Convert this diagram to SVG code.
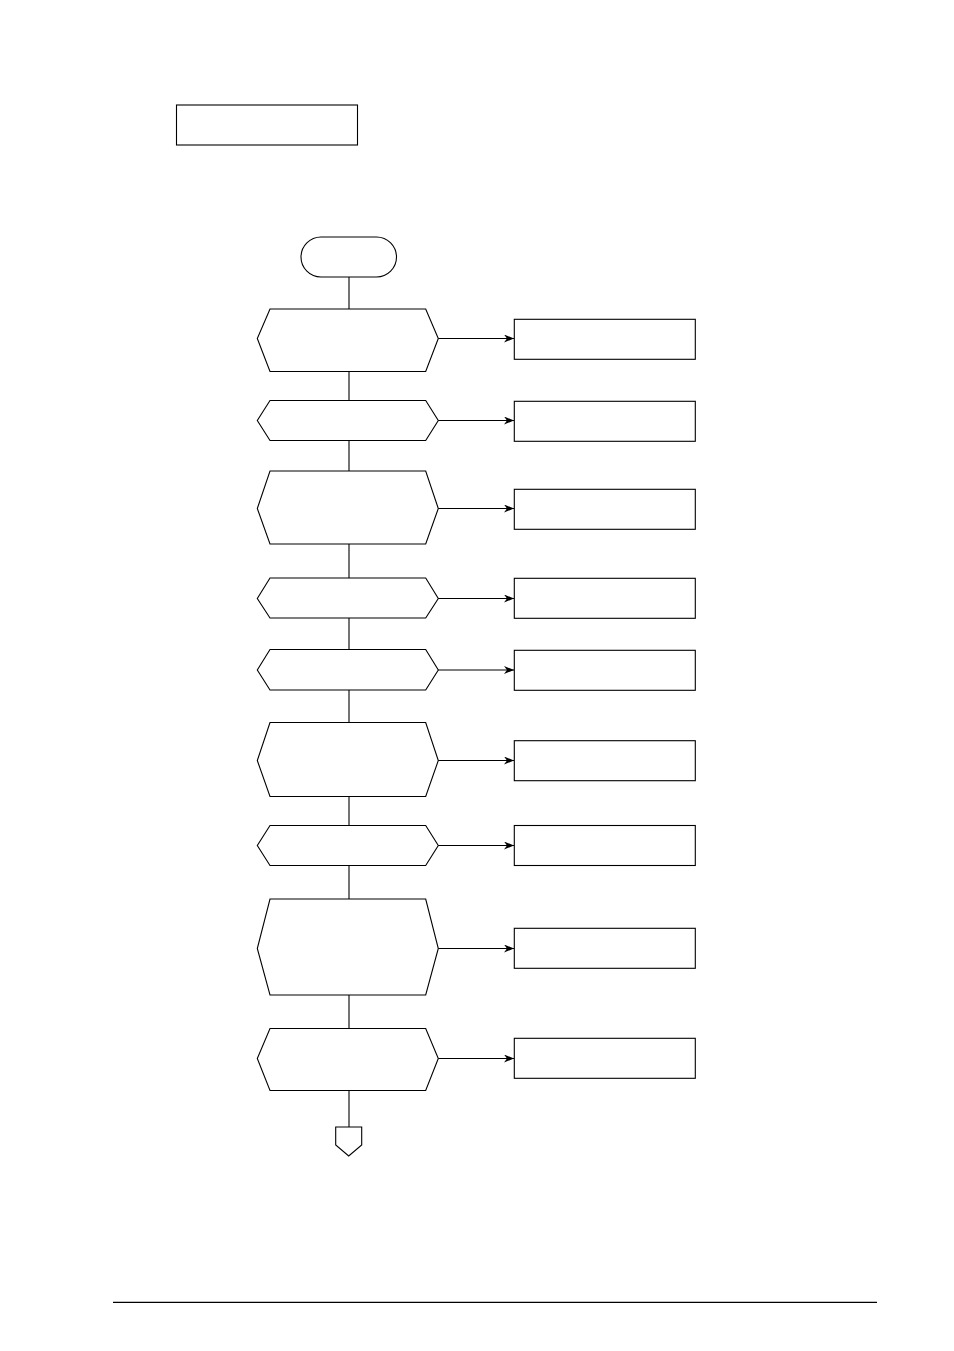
<svg xmlns="http://www.w3.org/2000/svg" width="954" height="1351" viewBox="0 0 954 1351">
<style>
.s{fill:#fff;stroke:#000;stroke-width:1.1}
.c{fill:none;stroke:#000;stroke-width:1.1}
</style>
<defs>
<marker id="ah" viewBox="0 0 10 8" refX="10" refY="4" markerWidth="10" markerHeight="8" markerUnits="userSpaceOnUse" orient="auto">
<path d="M0,0 L10,4 L0,8 L3,4 Z" fill="#000"/>
</marker>
</defs>
<rect width="954" height="1351" fill="#fff"/>
<g id="header"><rect class="s" x="176.5" y="105" width="181" height="40"/></g>
<g id="connectors">
<line class="c" x1="349" y1="277" x2="349" y2="309"/>
<line class="c" x1="349" y1="371.5" x2="349" y2="400.5"/>
<line class="c" x1="349" y1="440.5" x2="349" y2="471"/>
<line class="c" x1="349" y1="544" x2="349" y2="578"/>
<line class="c" x1="349" y1="618" x2="349" y2="649.5"/>
<line class="c" x1="349" y1="690" x2="349" y2="722.5"/>
<line class="c" x1="349" y1="796.5" x2="349" y2="825.5"/>
<line class="c" x1="349" y1="865.5" x2="349" y2="899"/>
<line class="c" x1="349" y1="995" x2="349" y2="1028.5"/>
<line class="c" x1="349" y1="1090.5" x2="349" y2="1127"/>
<line class="c" x1="438" y1="338.5" x2="514" y2="338.5" marker-end="url(#ah)"/>
<line class="c" x1="438" y1="420.5" x2="514" y2="420.5" marker-end="url(#ah)"/>
<line class="c" x1="438" y1="508.5" x2="514" y2="508.5" marker-end="url(#ah)"/>
<line class="c" x1="438" y1="598.5" x2="514" y2="598.5" marker-end="url(#ah)"/>
<line class="c" x1="438" y1="670" x2="514" y2="670" marker-end="url(#ah)"/>
<line class="c" x1="438" y1="760.5" x2="514" y2="760.5" marker-end="url(#ah)"/>
<line class="c" x1="438" y1="845.5" x2="514" y2="845.5" marker-end="url(#ah)"/>
<line class="c" x1="438" y1="948.5" x2="514" y2="948.5" marker-end="url(#ah)"/>
<line class="c" x1="438" y1="1058.5" x2="514" y2="1058.5" marker-end="url(#ah)"/>
</g>
<g id="start"><rect class="s" x="301" y="237" width="95.5" height="40" rx="20" ry="20"/></g>
<g id="step1"><polygon class="s" points="270,309 425.7,309 438.3,338.5 425.7,371.5 270,371.5 257.3,338.5"/></g>
<g id="step2"><polygon class="s" points="270,400.5 425.7,400.5 438.3,420.5 425.7,440.5 270,440.5 257.3,420.5"/></g>
<g id="step3"><polygon class="s" points="270,471 425.7,471 438.3,508.5 425.7,544 270,544 257.3,508.5"/></g>
<g id="step4"><polygon class="s" points="270,578 425.7,578 438.3,598.5 425.7,618 270,618 257.3,598.5"/></g>
<g id="step5"><polygon class="s" points="270,649.5 425.7,649.5 438.3,670 425.7,690 270,690 257.3,670"/></g>
<g id="step6"><polygon class="s" points="270,722.5 425.7,722.5 438.3,760.5 425.7,796.5 270,796.5 257.3,760.5"/></g>
<g id="step7"><polygon class="s" points="270,825.5 425.7,825.5 438.3,845.5 425.7,865.5 270,865.5 257.3,845.5"/></g>
<g id="step8"><polygon class="s" points="270,899 425.7,899 438.3,948.5 425.7,995 270,995 257.3,948.5"/></g>
<g id="step9"><polygon class="s" points="270,1028.5 425.7,1028.5 438.3,1058.5 425.7,1090.5 270,1090.5 257.3,1058.5"/></g>
<g id="box1"><rect class="s" x="514.3" y="319.3" width="181" height="40"/></g>
<g id="box2"><rect class="s" x="514.3" y="401.3" width="181" height="40"/></g>
<g id="box3"><rect class="s" x="514.3" y="489.3" width="181" height="40"/></g>
<g id="box4"><rect class="s" x="514.3" y="578.3" width="181" height="40"/></g>
<g id="box5"><rect class="s" x="514.3" y="650.3" width="181" height="40"/></g>
<g id="box6"><rect class="s" x="514.3" y="740.7" width="181" height="40"/></g>
<g id="box7"><rect class="s" x="514.3" y="825.5" width="181" height="40"/></g>
<g id="box8"><rect class="s" x="514.3" y="928.3" width="181" height="40"/></g>
<g id="box9"><rect class="s" x="514.3" y="1038.3" width="181" height="40"/></g>
<g id="offpage"><polygon class="s" points="335.7,1127 361.7,1127 361.7,1145 348.7,1156 335.7,1145"/></g>
<line x1="113" y1="1302.3" x2="877" y2="1302.3" stroke="#000" stroke-width="1.2"/>
</svg>
